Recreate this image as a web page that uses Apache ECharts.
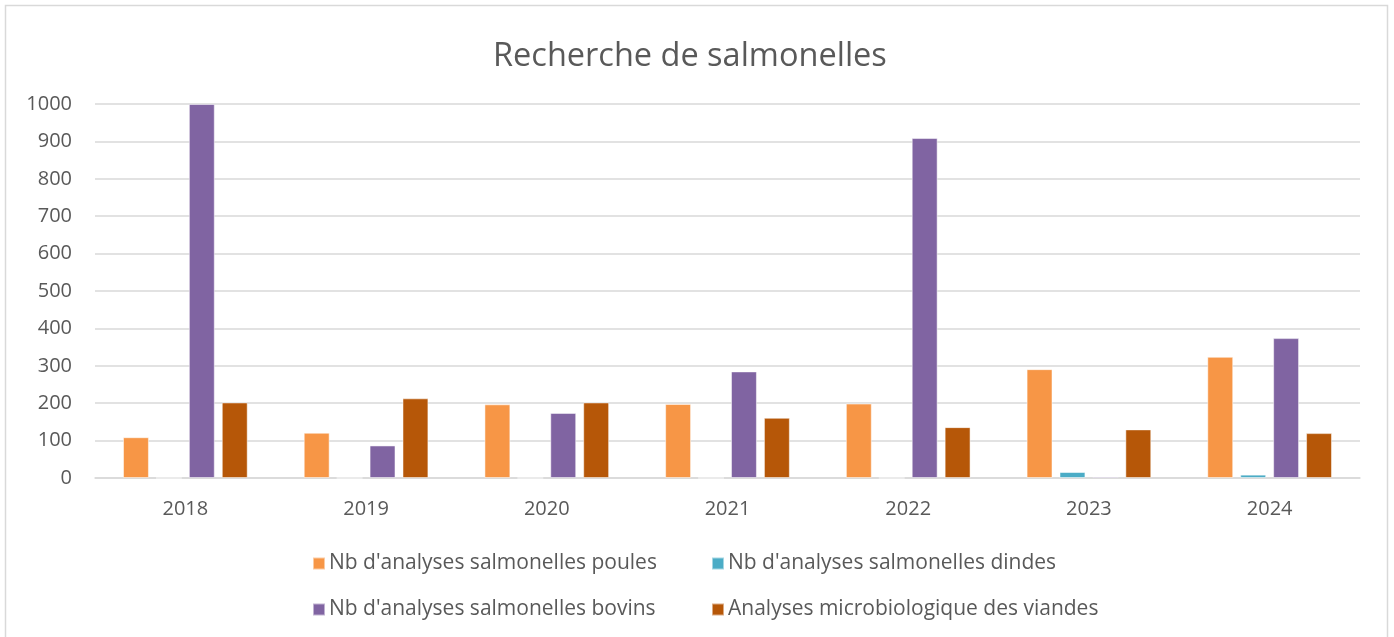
<!DOCTYPE html>
<html>
<head>
<meta charset="utf-8">
<script src="https://cdn.jsdelivr.net/npm/echarts@6/dist/echarts.min.js"></script>
<style>
  html, body { margin: 0; padding: 0; background: #fff; }
  #chart { width: 1394px; height: 637px; }
</style>
</head>
<body>
<div id="chart"></div>
<script>
// données
var annees = ['2018', '2019', '2020', '2021', '2022', '2023', '2024'];
var poules = [109, 121, 197, 198, 199, 291, 324];
var dindes = [0, 0, 0, 0, 0, 16, 9];
var bovins = [1000, 87, 174, 285, 909, 4, 374];
var viandes = [202, 213, 202, 161, 136, 130, 120];
var yTicks = [0, 100, 200, 300, 400, 500, 600, 700, 800, 900, 1000];

var noms = [
	"Nb d'analyses salmonelles poules",
	"Nb d'analyses salmonelles dindes",
	"Nb d'analyses salmonelles bovins",
	"Analyses microbiologique des viandes"
];
var couleurs = ['#f79646', '#4bacc6', '#8064a2', '#b65708'];
var valeurs = [poules, dindes, bovins, viandes];

var police = '"Open Sans", Lato, sans-serif';

function legende(i, left, top){
	return {
		data: [noms[i]],
		left: left,
		top: top,
		itemWidth: 12,
		itemHeight: 12,
		icon: 'rect',
		itemGap: 4,
		textStyle: { color: '#595959', fontSize: 21, fontFamily: police, padding: [0, 0, 0, -1] },
		selectedMode: false
	};
}

var series = [];
for (var i = 0; i < noms.length; i++) {
	series.push({
		name: noms[i],
		type: 'bar',
		data: valeurs[i],
		barGap: '27%',
		barCategoryGap: '31%',
		itemStyle: {
			color: couleurs[i],
			borderColor: 'rgba(255,255,255,0.5)',
			borderWidth: 1
		}
	});
}

var chart = echarts.init(document.getElementById('chart'));
chart.setOption({
	backgroundColor: '#fff',
	animation: false,
	title: {
		text: 'Recherche de salmonelles',
		left: 488,
		top: 35,
		textStyle: { color: '#595959', fontSize: 32.5, fontWeight: 'normal', fontFamily: police }
	},
	graphic: [{
		type: 'rect',
		shape: { x: 5.5, y: 5.5, width: 1382, height: 640 },
		style: { fill: null, stroke: '#d9d9d9', lineWidth: 1.5 },
		silent: true
	}],
	legend: [
		legende(0, 307, 548),
		legende(1, 706, 548),
		legende(2, 307, 594),
		legende(3, 706, 594)
	],
	grid: {
		left: 95,
		right: 34,
		top: 104,
		bottom: 159,
		containLabel: false
	},
	xAxis: {
		type: 'category',
		data: annees,
		axisLine: { lineStyle: { color: '#d9d9d9', width: 1.5 } },
		axisTick: { show: false },
		axisLabel: { color: '#595959', fontSize: 20, fontFamily: police, margin: 21 }
	},
	yAxis: {
		type: 'value',
		min: yTicks[0],
		max: yTicks[yTicks.length - 1],
		interval: 100,
		axisLine: { show: false },
		axisTick: { show: false },
		splitLine: { lineStyle: { color: '#d9d9d9', width: 1.5 } },
		axisLabel: {
			color: '#595959', fontSize: 20, fontFamily: police, margin: 23,
			formatter: function(v){ return String(v); }
		}
	},
	series: series
});
</script>
</body>
</html>
